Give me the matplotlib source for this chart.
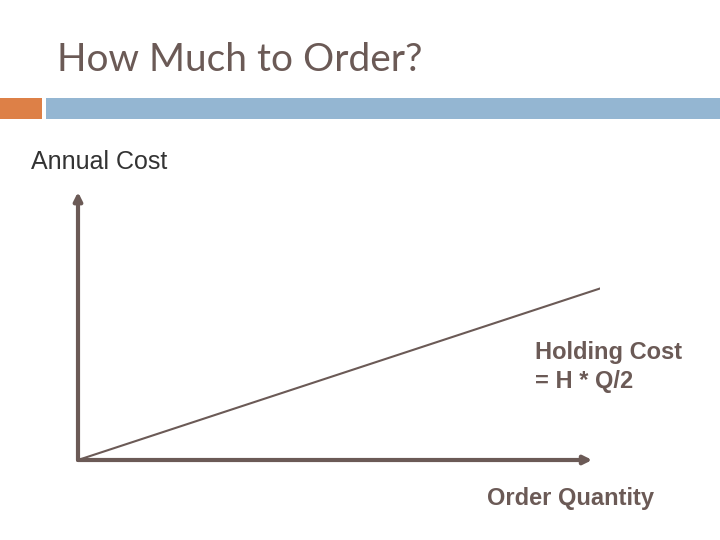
import numpy as np
import matplotlib.pyplot as plt
from matplotlib.patches import Rectangle

# Data: holding cost grows linearly with order quantity
order_qty = np.array([0, 100])
holding_cost = np.array([0, 64])

title = 'How Much to Order?'
y_label = 'Annual Cost'
x_label = 'Order Quantity'
curve_label = 'Holding Cost\n= H * Q/2'

brown = '#6b5a56'

fig = plt.figure(figsize=(7.2, 5.4), dpi=100)

# Slide decoration in pixel coordinates
bg = fig.add_axes([0, 0, 1, 1])
bg.set_xlim(0, 720)
bg.set_ylim(540, 0)
bg.axis('off')
bg.add_patch(Rectangle((0, 98), 42, 21, color='#dd8047', lw=0))
bg.add_patch(Rectangle((46, 98), 674, 21, color='#94b6d2', lw=0))
bg.text(57, 60, title, fontsize=28, color=brown, va='center', ha='left',
        family='Lato')
bg.text(31, 162, y_label, fontsize=18, color='#333333', va='center', ha='left',
        family='Liberation Sans')
bg.text(535, 367, curve_label, fontsize=17, color=brown, va='center', ha='left',
        family='Liberation Sans', fontweight='bold', linespacing=1.35)
bg.text(487, 498, x_label, fontsize=17, color=brown, va='center', ha='left',
        family='Liberation Sans', fontweight='bold')

# Chart axes
ax = fig.add_axes([78/720, 80/540, 522/720, 268/540])
ax.set_xlim(0, 100)
ax.set_ylim(0, 100)
ax.axis('off')
ax.plot(order_qty, holding_cost, color=brown, lw=1.5)

ax.annotate('', xy=(0.985, 0), xytext=(0, 0), xycoords='axes fraction',
            arrowprops=dict(arrowstyle='-|>', color=brown, lw=3,
                            mutation_scale=12, shrinkA=0, shrinkB=0))
ax.annotate('', xy=(0, 1.0), xytext=(0, 0), xycoords='axes fraction',
            arrowprops=dict(arrowstyle='-|>', color=brown, lw=3,
                            mutation_scale=12, shrinkA=0, shrinkB=0))

fig.savefig('out.png', dpi=100)
